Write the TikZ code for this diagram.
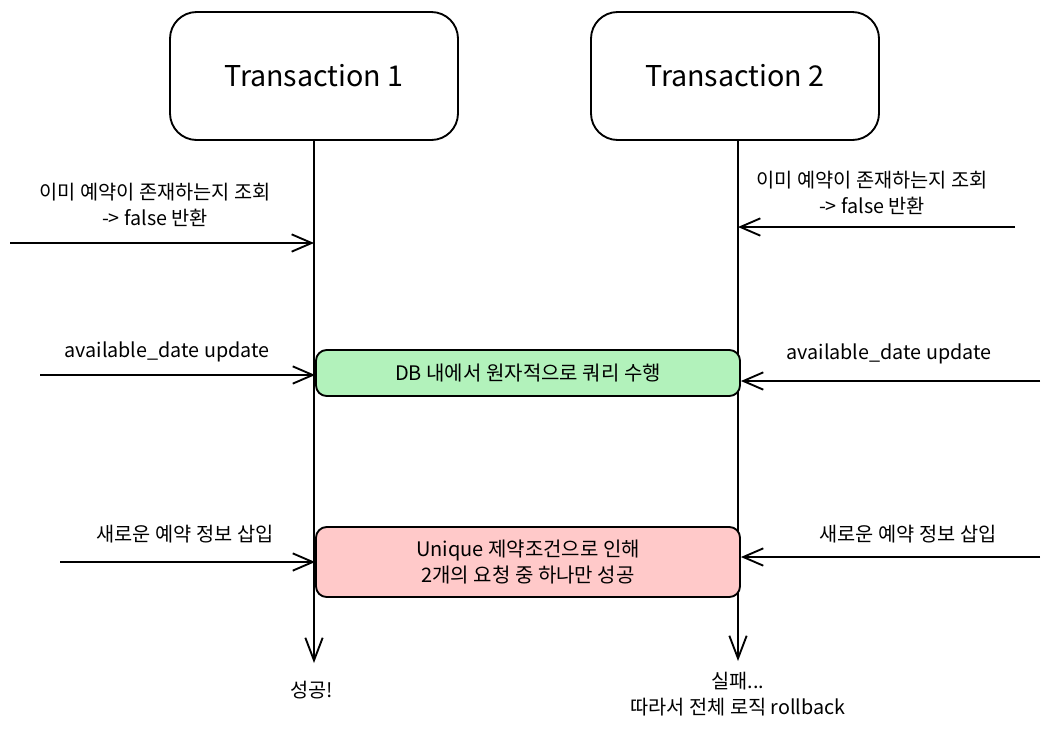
\documentclass[tikz,border=0pt]{standalone}
\usepackage{fontspec}
\setmainfont{Noto Sans CJK KR}
\usepackage{tikz}
\usetikzlibrary{arrows.meta}
\definecolor{okgreen}{HTML}{B2F2BB}
\definecolor{failred}{HTML}{FFC9C9}
\tikzset{
    txbox/.style={draw,line width=1.4pt,rounded corners=20pt,minimum width=216pt,minimum height=96pt,font=\fontsize{21.5}{25}\selectfont},
    stepbar/.style={draw,line width=1.4pt,rounded corners=8pt,minimum width=318pt,font=\fontsize{15}{19.5}\selectfont,align=center},
    lbl/.style={font=\fontsize{14.8}{19.5}\selectfont,align=center},
    life/.style={line width=1.6pt,-{Straight Barb[length=17pt,width=13pt,line width=1.4pt]}},
    msg/.style={line width=1.4pt,-{Straight Barb[length=15pt,width=13pt,line width=1.4pt]}}
}
\begin{document}
\begin{tikzpicture}[x=0.75pt,y=-0.75pt]
    \useasboundingbox (0,0) rectangle (1049,729);
    % Transactions
    \node[txbox] (tx1) at (314,76) {Transaction 1};
    \node[txbox] (tx2) at (735,76) {Transaction 2};
    \coordinate (end1) at (tx1.south |- 0,663);
    \coordinate (end2) at (738,661);
    % Lifelines
    \draw[life] (tx1.south) -- (end1);
    \draw[life] (end2 |- tx2.south) -- (end2);
    % Shared steps
    \node[stepbar,fill=okgreen,minimum height=34.5pt] (atomic) at (528,373) {DB 내에서 원자적으로 쿼리 수행};
    \node[stepbar,fill=failred,minimum height=52.5pt] (unique) at (528,562) {Unique 제약조건으로 인해\\2개의 요청 중 하나만 성공};
    % Step 1
    \node[lbl] (check1) at (155,205) {이미 예약이 존재하는지 조회\\-> false 반환};
    \node[lbl] (check2) at (872,193) {이미 예약이 존재하는지 조회\\-> false 반환};
    \coordinate (in1a) at (10,243);
    \coordinate (in1b) at (1015,227);
    \draw[msg] (in1a) -- (tx1.south |- in1a);
    \draw[msg] (in1b) -- (end2 |- in1b);
    % Step 2
    \node[lbl] (upd1) at (167,352) {available\_date update};
    \node[lbl] (upd2) at (889,354) {available\_date update};
    \coordinate (in2a) at (40,375);
    \coordinate (in2b) at (1040,381);
    \draw[msg] (in2a) -- (atomic.west |- in2a);
    \draw[msg] (in2b) -- (atomic.east |- in2b);
    % Step 3
    \node[lbl] (ins1) at (185,534) {새로운 예약 정보 삽입};
    \node[lbl] (ins2) at (908,534) {새로운 예약 정보 삽입};
    \coordinate (in3a) at (60,562);
    \coordinate (in3b) at (1040,557);
    \draw[msg] (in3a) -- (unique.west |- in3a);
    \draw[msg] (in3b) -- (unique.east |- in3b);
    % Results
    \node[lbl] (ok) at (312,690) {성공!};
    \node[lbl] (fail) at (738,694) {실패...\\따라서 전체 로직 rollback};
\end{tikzpicture}
\end{document}
